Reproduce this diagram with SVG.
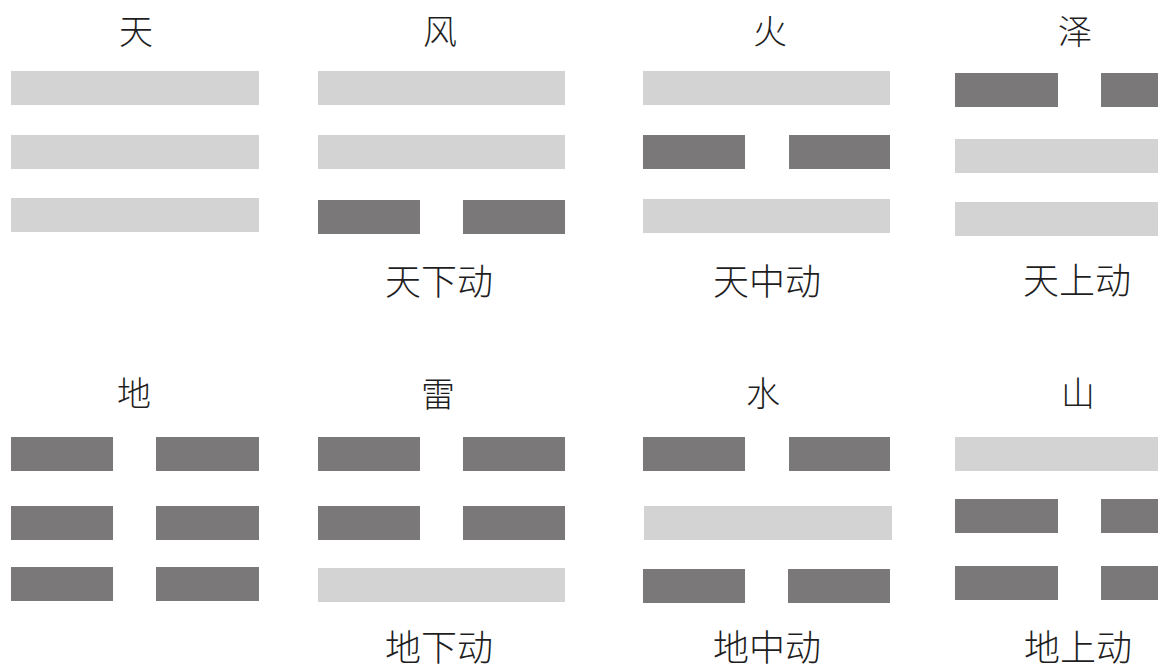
<svg xmlns="http://www.w3.org/2000/svg" width="1158" height="670" viewBox="0 0 1158 670">
<style>
.y{fill:#d3d3d3}
.n{fill:#7a7878}
text{font-family:"Noto Sans CJK SC","Noto Sans",sans-serif;font-weight:300;fill:#1e1e1e;text-anchor:middle}
.t{font-size:34px}
.l{font-size:36px}
</style>
<rect width="1158" height="670" fill="#fff"/>
<g id="tian">
<text class="t" x="136" y="44">天</text>
<rect class="y" x="11" y="71" width="248" height="34"/>
<rect class="y" x="11" y="135" width="248" height="34"/>
<rect class="y" x="11" y="198" width="248" height="34"/>
</g>
<g id="feng">
<text class="t" x="440" y="44">风</text>
<rect class="y" x="318" y="71" width="247" height="34"/>
<rect class="y" x="318" y="135" width="247" height="34"/>
<rect class="n" x="318" y="200" width="102" height="34"/>
<rect class="n" x="463" y="200" width="102" height="34"/>
<text class="l" x="439" y="295">天下动</text>
</g>
<g id="huo">
<text class="t" x="770" y="44">火</text>
<rect class="y" x="643" y="71" width="247" height="34"/>
<rect class="n" x="643" y="135" width="102" height="34"/>
<rect class="n" x="789" y="135" width="101" height="34"/>
<rect class="y" x="643" y="199" width="247" height="34"/>
<text class="l" x="767" y="295">天中动</text>
</g>
<g id="ze">
<text class="t" x="1075" y="44">泽</text>
<rect class="n" x="955" y="73" width="103" height="34"/>
<rect class="n" x="1101" y="73" width="57" height="34"/>
<rect class="y" x="955" y="139" width="203" height="34"/>
<rect class="y" x="955" y="202" width="203" height="34"/>
<text class="l" x="1077" y="294">天上动</text>
</g>
<g id="di">
<text class="t" x="134" y="406">地</text>
<rect class="n" x="11" y="437" width="102" height="34"/>
<rect class="n" x="156" y="437" width="103" height="34"/>
<rect class="n" x="11" y="506" width="102" height="34"/>
<rect class="n" x="156" y="506" width="103" height="34"/>
<rect class="n" x="11" y="567" width="102" height="34"/>
<rect class="n" x="156" y="567" width="103" height="34"/>
</g>
<g id="lei">
<text class="t" x="438" y="407">雷</text>
<rect class="n" x="318" y="437" width="102" height="34"/>
<rect class="n" x="463" y="437" width="102" height="34"/>
<rect class="n" x="318" y="506" width="102" height="34"/>
<rect class="n" x="463" y="506" width="102" height="34"/>
<rect class="y" x="318" y="568" width="247" height="34"/>
<text class="l" x="439" y="661">地下动</text>
</g>
<g id="shui">
<text class="t" x="763" y="406">水</text>
<rect class="n" x="643" y="437" width="102" height="34"/>
<rect class="n" x="789" y="437" width="101" height="34"/>
<rect class="y" x="644" y="506" width="248" height="34"/>
<rect class="n" x="643" y="569" width="102" height="34"/>
<rect class="n" x="788" y="569" width="102" height="34"/>
<text class="l" x="767" y="661">地中动</text>
</g>
<g id="shan">
<text class="t" x="1078" y="406">山</text>
<rect class="y" x="955" y="437" width="203" height="34"/>
<rect class="n" x="955" y="499" width="103" height="34"/>
<rect class="n" x="1101" y="499" width="57" height="34"/>
<rect class="n" x="955" y="566" width="103" height="34"/>
<rect class="n" x="1101" y="566" width="57" height="34"/>
<text class="l" x="1078" y="661">地上动</text>
</g>
<g id="connectors"/>
</svg>
